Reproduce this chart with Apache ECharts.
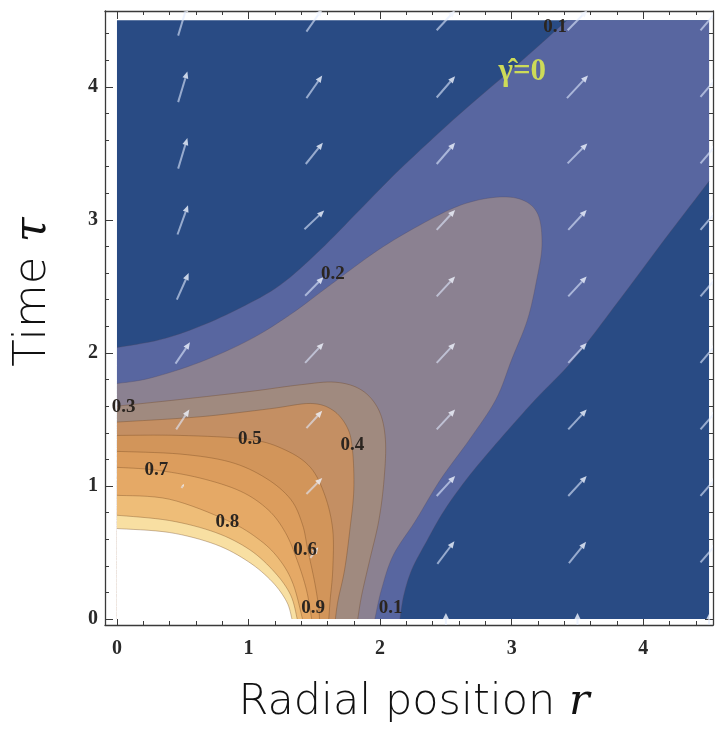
<!DOCTYPE html>
<html><head><meta charset="utf-8">
<script src="https://cdn.jsdelivr.net/npm/echarts@6/dist/echarts.min.js"></script>
<style>html,body{margin:0;padding:0;background:#fff}#c{width:715px;height:730px}</style>
</head><body><div id="c"></div>
<script>
// ---- axis ticks ----
const xMajorTicks = [0, 1, 2, 3, 4];
const xMinorTicks = [0.2,0.4,0.6,0.8,1.2,1.4,1.6,1.8,2.2,2.4,2.6,2.8,3.2,3.4,3.6,3.8,4.2,4.4];
const yMajorTicks = [0, 1, 2, 3, 4];
const yMinorTicks = [0.2,0.4,0.6,0.8,1.2,1.4,1.6,1.8,2.2,2.4,2.6,2.8,3.2,3.4,3.6,3.8,4.2,4.4];
const xRange = [-0.091, 4.53];
const yRange = [-0.045, 4.57];
const domainR = 4.5, domainT = 4.5;

// ---- contour levels and band colours ----
const levels = [0.1, 0.2, 0.3, 0.4, 0.5, 0.6, 0.7, 0.8, 0.9, 0.95];
const bandColors = ['#294b84','#5866a0','#8b8191','#a08a7f','#c48f63','#d2955a','#dc9d5d','#e5a966','#eebd78','#f8dfa2','#ffffff'];

// ---- contour lines [r, tau] ----
const c01Upper = [[0,2.04],[0.33,2.10],[0.63,2.20],[0.94,2.34],[1.24,2.51],[1.54,2.77],[1.85,3.08],[2.15,3.38],[2.61,3.80],[3.07,4.19],[3.42,4.5]];
const c01Lower = [[2.15,0],[2.18,0.18],[2.24,0.37],[2.34,0.56],[2.49,0.82],[2.68,1.08],[2.91,1.35],[3.18,1.65],[3.47,1.95],[3.82,2.40],[4.16,2.85],[4.5,3.29]];
const c02 = [[0,1.77],[0.25,1.81],[0.63,1.93],[1.01,2.10],[1.32,2.29],[1.62,2.51],[1.98,2.77],[2.30,2.96],[2.61,3.11],[2.88,3.17],[3.08,3.15],[3.20,3.04],[3.23,2.81],[3.19,2.55],[3.12,2.25],[3.00,1.95],[2.88,1.65],[2.68,1.35],[2.46,1.05],[2.27,0.74],[2.10,0.48],[2.01,0.22],[1.96,0]];
const c03 = [[0,1.60],[0.48,1.65],[1.01,1.71],[1.39,1.76],[1.66,1.78],[1.86,1.72],[1.99,1.57],[2.04,1.35],[2.03,1.05],[1.99,0.74],[1.92,0.44],[1.86,0.18],[1.83,0]];
const c04 = [[0,1.48],[0.63,1.52],[1.16,1.58],[1.47,1.62],[1.64,1.57],[1.75,1.44],[1.79,1.27],[1.80,0.97],[1.77,0.67],[1.73,0.37],[1.68,0.14],[1.66,0]];
const c05 = [[0,1.38],[0.48,1.38],[1.01,1.35],[1.28,1.27],[1.47,1.14],[1.58,0.93],[1.64,0.67],[1.64,0.37],[1.62,0.14],[1.61,0]];
const c06 = [[0,1.26],[0.48,1.24],[0.86,1.18],[1.13,1.06],[1.32,0.90],[1.41,0.71],[1.45,0.52],[1.50,0.29],[1.53,0.11],[1.54,0]];
const c07 = [[0,1.14],[0.29,1.12],[0.63,1.06],[0.94,0.96],[1.15,0.82],[1.28,0.65],[1.37,0.44],[1.44,0.22],[1.48,0]];
const c08 = [[0,0.93],[0.40,0.90],[0.84,0.74],[1.09,0.59],[1.24,0.44],[1.34,0.26],[1.41,0]];
const c09 = [[0,0.78],[0.40,0.74],[0.75,0.65],[1.01,0.52],[1.20,0.35],[1.32,0.18],[1.37,0]];
const c095 = [[0,0.68],[0.40,0.65],[0.75,0.56],[1.00,0.43],[1.18,0.28],[1.29,0.13],[1.33,0]];

// ---- contour labels ----
const labelText = ['0.1','0.1','0.2','0.3','0.4','0.5','0.6','0.7','0.8','0.9'];
const labelPos = [[3.33,4.45],[2.08,0.08],[1.64,2.59],[0.05,1.59],[1.79,1.31],[1.01,1.35],[1.43,0.52],[0.30,1.12],[0.84,0.73],[1.49,0.08]];
const annotText = 'γ\u0302=0';
const annotPos = [3.08, 4.11];

// ---- vector field arrows: [r, tau, dr, dtau] ----
const arrows = [
 [0.5,4.5,0.07,0.23],[0.5,4.0,0.07,0.23],[0.5,3.5,0.07,0.23],[0.5,3.0,0.08,0.22],[0.5,2.5,0.09,0.20],[0.5,2.0,0.11,0.16],[0.5,1.5,0.10,0.15],[0.5,1.0,0.02,0.03],
 [1.5,4.5,0.12,0.17],[1.5,4.0,0.12,0.17],[1.5,3.5,0.13,0.16],[1.5,3.0,0.15,0.14],[1.5,2.5,0.14,0.14],[1.5,2.0,0.14,0.15],[1.5,1.5,0.12,0.13],[1.5,1.0,0.12,0.12],[1.5,0.5,0.06,0.08],
 [2.5,4.5,0.14,0.15],[2.5,4.0,0.14,0.16],[2.5,3.5,0.14,0.16],[2.5,3.0,0.14,0.15],[2.5,2.5,0.14,0.15],[2.5,2.0,0.14,0.15],[2.5,1.5,0.14,0.15],[2.5,1.0,0.14,0.15],[2.5,0.5,0.13,0.17],[2.5,0.0,0.0,0.09],
 [3.5,4.5,0.15,0.15],[3.5,4.0,0.16,0.17],[3.5,3.5,0.15,0.15],[3.5,3.0,0.14,0.15],[3.5,2.5,0.14,0.15],[3.5,2.0,0.14,0.15],[3.5,1.5,0.14,0.15],[3.5,1.0,0.14,0.15],[3.5,0.5,0.13,0.16],[3.5,0.0,0.0,0.09],
 [4.5,4.5,0.13,0.15],[4.5,4.0,0.13,0.15],[4.5,3.5,0.13,0.15],[4.5,3.0,0.13,0.15],[4.5,2.5,0.13,0.15],[4.5,2.0,0.13,0.15],[4.5,1.5,0.13,0.15],[4.5,1.0,0.13,0.15],[4.5,0.5,0.13,0.15],[4.5,0.0,0.0,0.08]
];

// ---- regions above each level: pieces are fixed domain corners or contour lines ----
const regionSpecs = [
  [{pt:[0,0]},{pt:[0,domainT]},{pt:[domainR,domainT]},{pt:[domainR,0]}],
  [{pt:[0,0]},{line:c01Upper},{pt:[domainR,domainT]},{line:c01Lower,rev:true}],
  [{pt:[0,0]},{line:c02}], [{pt:[0,0]},{line:c03}], [{pt:[0,0]},{line:c04}], [{pt:[0,0]},{line:c05}],
  [{pt:[0,0]},{line:c06}], [{pt:[0,0]},{line:c07}], [{pt:[0,0]},{line:c08}], [{pt:[0,0]},{line:c09}], [{pt:[0,0]},{line:c095}]
];
const contourLines = [c01Upper, c01Lower, c02, c03, c04, c05, c06, c07, c08, c09, c095];

// Catmull-Rom smoothing of a pixel polyline (rendering only)
function smoothPx(pts, seg) {
  seg = seg || 8;
  if (pts.length < 3) return pts.slice();
  const out = [], n = pts.length;
  for (let i = 0; i < n - 1; i++) {
    const p0 = pts[Math.max(i - 1, 0)], p1 = pts[i], p2 = pts[i + 1], p3 = pts[Math.min(i + 2, n - 1)];
    for (let s = 0; s < seg; s++) {
      const t = s / seg, t2 = t * t, t3 = t2 * t;
      out.push([0, 1].map(k => 0.5 * ((2 * p1[k]) + (-p0[k] + p2[k]) * t + (2 * p0[k] - 5 * p1[k] + 4 * p2[k] - p3[k]) * t2 + (-p0[k] + 3 * p1[k] - 3 * p2[k] + p3[k]) * t3)));
    }
  }
  out.push(pts[n - 1]);
  return out;
}

const axisColor = '#3a3a3a';
function mkAxis(dim, pos, range, ticks, len, showLine, showLabel) {
  return {
    type: 'value', gridIndex: 0, position: pos, min: range[0], max: range[1],
    axisLine: {show: showLine, onZero: false, lineStyle: {color: axisColor, width: 1.3}},
    axisTick: {show: true, inside: true, length: len, customValues: ticks, lineStyle: {color: axisColor, width: 1}},
    axisLabel: {show: showLabel, customValues: ticks, fontFamily: 'Liberation Serif', fontWeight: 'bold', fontSize: 20, color: '#2a2a2a', margin: dim === 'x' ? 14 : 7},
    splitLine: {show: false}
  };
}

const chart = echarts.init(document.getElementById('c'), null, {renderer: 'canvas'});
chart.setOption({
  animation: false,
  backgroundColor: '#ffffff',
  grid: {left: 105, right: 2, top: 11, bottom: 105, containLabel: false},
  xAxis: [
    mkAxis('x','bottom', xRange, xMajorTicks, 8, true, true),
    mkAxis('x','bottom', xRange, xMinorTicks, 4, false, false),
    mkAxis('x','top', xRange, xMajorTicks, 8, true, false),
    mkAxis('x','top', xRange, xMinorTicks, 4, false, false)
  ],
  yAxis: [
    mkAxis('y','left', yRange, yMajorTicks, 8, true, true),
    mkAxis('y','left', yRange, yMinorTicks, 4, false, false),
    mkAxis('y','right', yRange, yMajorTicks, 8, true, false),
    mkAxis('y','right', yRange, yMinorTicks, 4, false, false)
  ],
  series: [
    {
      type: 'custom', name: 'bands', xAxisIndex: 0, yAxisIndex: 0, clip: true, silent: true, z: 1,
      data: regionSpecs.map(() => [0, 0]),
      renderItem: function (params, api) {
        const spec = regionSpecs[params.dataIndex];
        let pts = [];
        spec.forEach(function (piece) {
          if (piece.pt) pts.push(api.coord(piece.pt));
          else {
            let px = smoothPx(piece.line.map(p => api.coord(p)));
            if (piece.rev) px = px.reverse();
            pts = pts.concat(px);
          }
        });
        return {type: 'polygon', shape: {points: pts}, style: {fill: bandColors[params.dataIndex]}};
      }
    },
    {
      type: 'custom', name: 'contours', xAxisIndex: 0, yAxisIndex: 0, clip: true, silent: true, z: 2,
      data: contourLines.map(() => [0, 0]),
      renderItem: function (params, api) {
        const i = params.dataIndex;
        return {type: 'polyline', shape: {points: smoothPx(contourLines[i].map(p => api.coord(p)))},
          style: {stroke: i >= 3 ? 'rgba(110,65,30,0.35)' : 'rgba(80,70,90,0.3)', lineWidth: 1, fill: null}};
      }
    },
    {
      type: 'custom', name: 'arrows', xAxisIndex: 0, yAxisIndex: 0, clip: true, silent: true, z: 3,
      data: arrows,
      renderItem: function (params, api) {
        const r = api.value(0), t = api.value(1), dr = api.value(2), dt = api.value(3);
        const p0 = api.coord([r - dr / 2, t - dt / 2]);
        const p1 = api.coord([r + dr / 2, t + dt / 2]);
        const dx = p1[0] - p0[0], dy = p1[1] - p0[1];
        const L = Math.sqrt(dx * dx + dy * dy) || 1;
        const ux = dx / L, uy = dy / L;
        const hl = Math.min(7, L * 0.5), hw = Math.min(3, L * 0.25);
        const base = [p1[0] - ux * hl, p1[1] - uy * hl];
        const col = 'rgba(225,235,255,0.6)';
        return {type: 'group', children: [
          {type: 'line', shape: {x1: p0[0], y1: p0[1], x2: base[0], y2: base[1]}, style: {stroke: col, lineWidth: 2}},
          {type: 'polygon', shape: {points: [p1, [base[0] - uy * hw, base[1] + ux * hw], [base[0] + uy * hw, base[1] - ux * hw]]}, style: {fill: 'rgba(240,245,255,0.8)'}}
        ]};
      }
    },
    {
      type: 'custom', name: 'labels', xAxisIndex: 0, yAxisIndex: 0, clip: false, silent: true, z: 4,
      data: labelPos,
      renderItem: function (params, api) {
        const p = api.coord([api.value(0), api.value(1)]);
        return {type: 'text', x: p[0], y: p[1], style: {text: labelText[params.dataIndex], fill: '#2b2520',
          fontFamily: 'Liberation Serif', fontWeight: 'bold', fontSize: 19, align: 'center', verticalAlign: 'middle'}};
      }
    },
    {
      type: 'custom', name: 'annotation', xAxisIndex: 0, yAxisIndex: 0, clip: false, silent: true, z: 4,
      data: [annotPos],
      renderItem: function (params, api) {
        const p = api.coord([api.value(0), api.value(1)]);
        return {type: 'text', x: p[0], y: p[1], style: {text: annotText, fill: '#cddb58',
          fontFamily: 'Liberation Serif', fontWeight: 'bold', fontSize: 31, align: 'center', verticalAlign: 'middle'}};
      }
    }
  ],
  graphic: [
    {type: 'text', x: 414, y: 703, style: {text: '{a|Radial position }{b|r}', align: 'center', verticalAlign: 'middle',
      rich: {a: {fontFamily: 'DejaVu Sans', fontWeight: 200, fontSize: 43, fill: '#111'}, b: {fontFamily: 'DejaVu Serif', fontStyle: 'italic', fontSize: 43, fill: '#111'}}}},
    {type: 'text', x: 33, y: 292, rotation: Math.PI / 2, style: {text: '{a|Time }{b|τ}', align: 'center', verticalAlign: 'middle',
      rich: {a: {fontFamily: 'DejaVu Sans', fontWeight: 200, fontSize: 45, fill: '#111'}, b: {fontFamily: 'DejaVu Serif', fontStyle: 'italic', fontSize: 45, fill: '#111'}}}}
  ]
});
</script></body></html>
